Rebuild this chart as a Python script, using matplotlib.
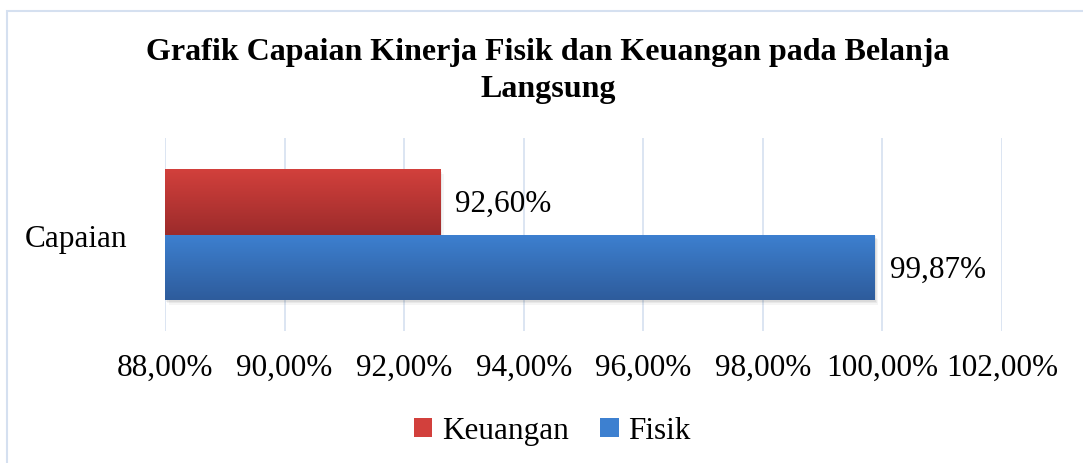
import numpy as np
import matplotlib
matplotlib.use('Agg')
import matplotlib.pyplot as plt
from matplotlib.patches import Rectangle, Patch
from matplotlib.colors import LinearSegmentedColormap

plt.rcParams['font.family'] = ['Liberation Serif', 'DejaVu Serif']

# data
categories = ['Capaian']
series_names = ['Keuangan', 'Fisik']
values = [92.60, 99.87]
value_labels = ['92,60%', '99,87%']
xticks = [88, 90, 92, 94, 96, 98, 100, 102]
xtick_labels = ['88,00%', '90,00%', '92,00%', '94,00%', '96,00%', '98,00%', '100,00%', '102,00%']

top_colors = ['#d2403c', '#3d80d0']
bottom_colors = ['#9c2b2b', '#2e5c9c']

fs = 22.5

fig = plt.figure(figsize=(10.83, 4.64), dpi=100)
ax = fig.add_axes([165 / 1083, 1 - 332 / 464, (1002 - 165) / 1083, (332 - 139) / 464])

# chart border (only left/top visible in the original crop)
fig.patches.append(Rectangle((7 / 1083, -0.1), 1.2, 1 - 12 / 464 + 0.1,
                             transform=fig.transFigure, fill=False,
                             edgecolor='#d5e0f0', linewidth=1.5))

bar_h = 0.34
offsets = [bar_h / 2, -bar_h / 2]
base = xticks[0]
y0 = np.arange(len(categories))

for i, name in enumerate(series_names):
    bars = ax.barh(y0 + offsets[i], [values[i] - base], height=bar_h, left=base,
                   color=top_colors[i], zorder=3)
    cmap = LinearSegmentedColormap.from_list(name, [bottom_colors[i], top_colors[i]])
    for b in bars:
        # soft shadow
        for k, a in enumerate([0.06, 0.05, 0.04]):
            ax.add_patch(Rectangle((b.get_x() + 0.02 * (k + 1), b.get_y() - 0.008 * (k + 1)),
                                   b.get_width(), b.get_height(),
                                   facecolor='#000000', alpha=a, edgecolor='none', zorder=2))
        grad = np.linspace(0, 1, 100).reshape(-1, 1)
        im = ax.imshow(grad, cmap=cmap, origin='lower', aspect='auto',
                       extent=[b.get_x(), b.get_x() + b.get_width(), b.get_y(), b.get_y() + b.get_height()],
                       zorder=4)
        im.set_clip_path(b)
        ax.text(b.get_x() + b.get_width() + 0.25, b.get_y() + b.get_height() / 2 - 0.01,
                value_labels[i], va='center', ha='left', fontsize=fs, color='#000000', zorder=5)

ax.set_xlim(xticks[0], xticks[-1])
ax.set_ylim(-0.5, 0.5)
ax.set_xticks(xticks)
ax.set_xticklabels(xtick_labels, fontsize=fs)
ax.set_yticks(y0)
ax.set_yticklabels(categories, fontsize=fs)
ax.tick_params(axis='both', length=0)
ax.tick_params(axis='x', pad=16)
ax.tick_params(axis='y', pad=27)
ax.grid(axis='x', color='#d9e3f1', linewidth=1.3, zorder=0)
ax.set_axisbelow(True)
for s in ax.spines.values():
    s.set_visible(False)

fig.text(548 / 1083, 1 - 71 / 464,
         'Grafik Capaian Kinerja Fisik dan Keuangan pada Belanja\nLangsung',
         ha='center', va='center', fontsize=23, fontweight='bold', linespacing=1.38)

handles = [Patch(facecolor=top_colors[i], edgecolor='none') for i in range(len(series_names))]
fig.legend(handles, series_names, loc='center', bbox_to_anchor=(552 / 1083, 1 - 432 / 464),
           ncol=2, frameon=False, fontsize=fs, handlelength=0.6, handleheight=0.6,
           handletextpad=0.3, columnspacing=1.0)

fig.savefig('out.png', dpi=100)
